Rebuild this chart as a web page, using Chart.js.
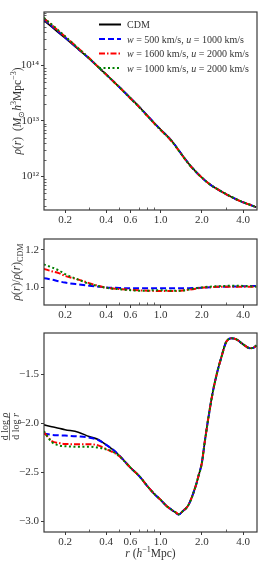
<!DOCTYPE html>
<html><head><meta charset="utf-8">
<script src="https://cdn.jsdelivr.net/npm/chart.js@4.4.0/dist/chart.umd.min.js"></script>
<style>
html,body{margin:0;padding:0;background:#fff;width:269px;height:571px;overflow:hidden}
canvas{position:absolute;left:0}
</style></head><body>
<canvas id="c1" width="269" height="228" style="top:0;width:269px;height:228px"></canvas>
<canvas id="c2" width="269" height="96" style="top:228px;width:269px;height:96px"></canvas>
<canvas id="c3" width="269" height="247" style="top:324px;width:269px;height:247px"></canvas>
<script>
// ---------------- data ----------------
const seriesNames = ['CDM', 'w = 500 km/s, u = 1000 km/s', 'w = 1600 km/s, u = 2000 km/s', 'w = 1000 km/s, u = 2000 km/s'];

const rGrid = [0.14,0.16,0.18,0.2,0.25,0.3,0.35,0.4,0.5,0.6,0.7,0.8,0.9,1.0,1.2,1.4,1.6,1.8,2.0,2.3,2.6,3.0,3.5,4.0,4.5,5.0];

const rhoCDM   = [6.47e14,4.94e14,3.88e14,3.13e14,1.96e14,1.33e14,9.35e13,6.89e13,4.08e13,2.61e13,1.79e13,1.26e13,9.16e12,7.03e12,4.46e12,2.67e12,1.72e12,1.24e12,9.59e11,7.14e11,5.90e11,4.82e11,3.96e11,3.43e11,3.08e11,2.79e11];
const rhoW500  = [6.78e14,5.14e14,4.00e14,3.21e14,1.99e14,1.34e14,9.37e13,6.88e13,4.06e13,2.59e13,1.78e13,1.25e13,9.10e12,6.98e12,4.43e12,2.65e12,1.71e12,1.23e12,9.55e11,7.13e11,5.91e11,4.83e11,3.97e11,3.44e11,3.10e11,2.80e11];
const rhoW1600 = [7.10e14,5.36e14,4.17e14,3.32e14,2.04e14,1.36e14,9.41e13,6.86e13,4.04e13,2.57e13,1.76e13,1.23e13,8.97e12,6.88e12,4.36e12,2.62e12,1.69e12,1.23e12,9.55e11,7.13e11,5.91e11,4.83e11,3.97e11,3.44e11,3.09e11,2.80e11];
const rhoW1000 = [7.26e14,5.46e14,4.23e14,3.35e14,2.04e14,1.35e14,9.40e13,6.86e13,4.03e13,2.57e13,1.75e13,1.23e13,9.00e12,6.91e12,4.37e12,2.62e12,1.70e12,1.23e12,9.57e11,7.15e11,5.92e11,4.85e11,3.99e11,3.45e11,3.09e11,2.80e11];

const ratioW500  = [1.048,1.040,1.031,1.024,1.014,1.007,1.002,0.998,0.995,0.993,0.993,0.993,0.993,0.993,0.993,0.993,0.994,0.995,0.996,0.999,1.001,1.002,1.003,1.004,1.005,1.005];
const ratioW1600 = [1.098,1.085,1.075,1.060,1.040,1.021,1.006,0.996,0.989,0.985,0.982,0.980,0.979,0.978,0.978,0.980,0.985,0.991,0.996,0.999,1.001,1.002,1.002,1.002,1.002,1.002];
const ratioW1000 = [1.122,1.106,1.090,1.070,1.040,1.017,1.005,0.996,0.988,0.983,0.980,0.980,0.983,0.983,0.980,0.980,0.986,0.993,0.998,1.002,1.004,1.006,1.007,1.006,1.004,1.002];

const rSlope = [0.14,0.16,0.18,0.2,0.25,0.3,0.35,0.4,0.45,0.5,0.6,0.7,0.8,0.9,1.0,1.1,1.2,1.3,1.35,1.45,1.6,1.8,1.9,2.0,2.1,2.2,2.4,2.6,2.8,3.0,3.3,3.6,4.0,4.5,4.8,5.0];
const slopeCDM   = [-2.015,-2.035,-2.05,-2.065,-2.09,-2.135,-2.165,-2.22,-2.27,-2.33,-2.45,-2.54,-2.64,-2.72,-2.78,-2.84,-2.88,-2.915,-2.93,-2.895,-2.83,-2.642,-2.525,-2.404,-2.19,-2.0,-1.688,-1.47,-1.31,-1.176,-1.134,-1.147,-1.195,-1.235,-1.228,-1.207];
const slopeW500  = [-2.105,-2.117,-2.122,-2.125,-2.133,-2.145,-2.17,-2.22,-2.27,-2.33,-2.45,-2.54,-2.64,-2.72,-2.78,-2.84,-2.88,-2.915,-2.93,-2.895,-2.83,-2.642,-2.525,-2.404,-2.19,-2.0,-1.688,-1.47,-1.31,-1.176,-1.134,-1.147,-1.195,-1.235,-1.228,-1.207];
const slopeW1600 = [-2.09,-2.18,-2.20,-2.21,-2.213,-2.212,-2.225,-2.262,-2.295,-2.335,-2.45,-2.54,-2.64,-2.72,-2.78,-2.84,-2.88,-2.91,-2.925,-2.895,-2.83,-2.642,-2.525,-2.404,-2.19,-2.0,-1.688,-1.47,-1.31,-1.176,-1.134,-1.147,-1.195,-1.235,-1.228,-1.207];
const slopeW1000 = [-2.08,-2.19,-2.225,-2.233,-2.238,-2.238,-2.247,-2.265,-2.29,-2.335,-2.45,-2.54,-2.64,-2.72,-2.78,-2.84,-2.88,-2.91,-2.925,-2.895,-2.83,-2.642,-2.525,-2.404,-2.19,-2.0,-1.688,-1.47,-1.31,-1.176,-1.134,-1.147,-1.195,-1.235,-1.228,-1.207];

const xTickValues = [0.2,0.4,0.6,1.0,2.0,4.0];
const xTickLabels = ['0.2','0.4','0.6','1.0','2.0','4.0'];
const xMinorTicks = [0.3,0.5,0.7,0.8,0.9,3.0];
const densityTickValues = [1e12,1e13,1e14];
const densityTickLabels = ['10\u00b9\u00b2','10\u00b9\u00b3','10\u00b9\u2074'];
const ratioTickValues = [1.0,1.2];
const ratioTickLabels = ['1.0','1.2'];
const slopeTickValues = [-3.0,-2.5,-2.0,-1.5];
const slopeTickLabels = ['\u22123.0','\u22122.5','\u22122.0','\u22121.5'];

// ---------------- styling ----------------
const FONT = '"Liberation Serif", "Times New Roman", serif';
const TXT = '#333333';
const FRAME = '#3a3a3a';
const lineStyles = [
  {color:'#000000', dash:[], width:1.6, order:3},
  {color:'#0000ff', dash:[6,3], width:2, order:2},
  {color:'#ff0000', dash:[6,2,1.5,2], width:2, order:1},
  {color:'#008000', dash:[2,2.5], width:2, order:0}
];
const X_MIN = 0.1404, X_MAX = 5.06;

function fontFor(s,size){
  const sz = (s.sup||s.sub) ? size*0.7 : size;
  return (s.i?'italic ':'') + sz + 'px ' + FONT;
}
function richWidth(ctx,segs,size){
  let w=0; for(const s of segs){ctx.font=fontFor(s,size); w+=ctx.measureText(s.t).width;} return w;
}
function drawRich(ctx,segs,cx,cy,size,rot,align){
  ctx.save(); ctx.translate(cx,cy); if(rot) ctx.rotate(-Math.PI/2);
  const w = richWidth(ctx,segs,size);
  let x = align==='left' ? 0 : -w/2;
  ctx.textBaseline='alphabetic'; ctx.textAlign='left'; ctx.fillStyle=TXT;
  for(const s of segs){
    ctx.font=fontFor(s,size);
    let dy = size*0.35;
    if(s.sup) dy -= size*0.42;
    if(s.sub) dy += size*0.22;
    ctx.fillText(s.t,x,dy);
    x += ctx.measureText(s.t).width;
  }
  ctx.restore();
  return w;
}
function labelSegs(str){
  const out=[]; const parts = str.split(/\b([wu])\b/);
  parts.forEach((p,i)=>{ if(!p) return; out.push(i%2===1?{t:p,i:true}:{t:p}); });
  return out;
}

function xScale(){
  return {
    type:'logarithmic', min:X_MIN, max:X_MAX,
    afterBuildTicks:s=>{ s.ticks = xTickValues.map(v=>({value:v})); },
    afterFit:s=>{ s.height = s.chart.options.xAxisHeight; },
    ticks:{callback:(v,i)=>xTickLabels[i], font:{family:FONT,size:11}, color:TXT, padding:1, maxRotation:0, minRotation:0, autoSkip:false},
    grid:{display:true, drawOnChartArea:false, drawTicks:true, tickLength:3, color:FRAME, lineWidth:1},
    border:{display:false}
  };
}
function yScale(type,min,max,vals,labels){
  return {
    type:type, min:min, max:max,
    afterBuildTicks:s=>{ s.ticks = vals.map(v=>({value:v})); },
    afterFit:s=>{ s.width = 44; },
    ticks:{callback:(v,i)=>labels[i], font:{family:FONT,size:11}, color:TXT, padding:2, autoSkip:false},
    grid:{display:true, drawOnChartArea:false, drawTicks:true, tickLength:3, color:FRAME, lineWidth:1},
    border:{display:false}
  };
}

function framePlugin(extra){
  return {
    id:'frame',
    afterDraw(chart){
      const ctx=chart.ctx, a=chart.chartArea;
      ctx.save();
      ctx.strokeStyle=FRAME; ctx.lineWidth=1.2;
      ctx.strokeRect(a.left,a.top,a.right-a.left,a.bottom-a.top);
      ctx.lineWidth=0.8;
      const xs=chart.scales.x;
      ctx.beginPath();
      for(const v of xMinorTicks){ const px=Math.round(xs.getPixelForValue(v))+0.5; ctx.moveTo(px,a.bottom); ctx.lineTo(px,a.bottom-2.5); }
      ctx.stroke();
      ctx.restore();
      if(extra) extra(chart);
    }
  };
}

function ds(values,xs,idx,label){
  const st=lineStyles[idx];
  return {label:label, data:values.map((v,i)=>({x:xs[i],y:v})), borderColor:st.color, borderDash:st.dash, order:st.order,
    borderWidth:st.width, pointRadius:0, fill:false, cubicInterpolationMode:'monotone', borderCapStyle:'butt'};
}

const common = {responsive:false, animation:false, events:[], plugins:{legend:{display:false}, tooltip:{enabled:false}}};

// ---------------- panel 1 ----------------
new Chart(document.getElementById('c1'), {
  type:'line',
  data:{datasets:[ds(rhoCDM,rGrid,0,seriesNames[0]),ds(rhoW500,rGrid,1,seriesNames[1]),ds(rhoW1600,rGrid,2,seriesNames[2]),ds(rhoW1000,rGrid,3,seriesNames[3])]},
  options:Object.assign({}, common, {
    xAxisHeight:18,
    layout:{padding:{top:12,right:12,left:0,bottom:0}},
    scales:{x:xScale(), y:yScale('logarithmic',2.49e11,9.2e14,densityTickValues,densityTickLabels)}
  }),
  plugins:[framePlugin(chart=>{
    const ctx=chart.ctx, a=chart.chartArea, ys=chart.scales.y;
    ctx.save(); ctx.strokeStyle=FRAME; ctx.lineWidth=0.8; ctx.beginPath();
    for(let n=11;n<=14;n++) for(let k=2;k<=9;k++){ const v=k*Math.pow(10,n); if(v<ys.min||v>ys.max) continue;
      const py=Math.round(ys.getPixelForValue(v))+0.5; ctx.moveTo(a.left,py); ctx.lineTo(a.left+2.5,py); }
    ctx.stroke(); ctx.restore();
    const rowY=[24.5,39,53.5,68];
    chart.data.datasets.forEach((d,i)=>{
      ctx.save(); ctx.strokeStyle=d.borderColor; ctx.lineWidth=2; ctx.setLineDash(d.borderDash);
      ctx.beginPath(); ctx.moveTo(99,rowY[i]); ctx.lineTo(121,rowY[i]); ctx.stroke(); ctx.restore();
      drawRich(ctx,labelSegs(d.label),127,rowY[i],10,false,'left');
    });
    drawRich(ctx,[{t:'\u03c1',i:true},{t:'('},{t:'r',i:true},{t:')  ('},{t:'M',i:true},{t:'\u2299',sub:true},{t:'h',i:true},{t:'3',sup:true},{t:'Mpc'},{t:'\u22123',sup:true},{t:')'}],
      17,(a.top+a.bottom)/2,11.5,true);
  })]
});

// ---------------- panel 2 ----------------
new Chart(document.getElementById('c2'), {
  type:'line',
  data:{datasets:[ds(ratioW500,rGrid,1,seriesNames[1]),ds(ratioW1600,rGrid,2,seriesNames[2]),ds(ratioW1000,rGrid,3,seriesNames[3])]},
  options:Object.assign({}, common, {
    xAxisHeight:19,
    layout:{padding:{top:11,right:12,left:0,bottom:0}},
    scales:{x:xScale(), y:yScale('linear',0.903,1.259,ratioTickValues,ratioTickLabels)}
  }),
  plugins:[framePlugin(chart=>{
    const a=chart.chartArea;
    drawRich(chart.ctx,[{t:'\u03c1',i:true},{t:'('},{t:'r',i:true},{t:')/'},{t:'\u03c1',i:true},{t:'('},{t:'r',i:true},{t:')'},{t:'CDM',sub:true}],
      16,(a.top+a.bottom)/2,11.5,true);
  })]
});

// ---------------- panel 3 ----------------
new Chart(document.getElementById('c3'), {
  type:'line',
  data:{datasets:[ds(slopeCDM,rSlope,0,seriesNames[0]),ds(slopeW500,rSlope,1,seriesNames[1]),ds(slopeW1600,rSlope,2,seriesNames[2]),ds(slopeW1000,rSlope,3,seriesNames[3])]},
  options:Object.assign({}, common, {
    xAxisHeight:39,
    layout:{padding:{top:9,right:12,left:0,bottom:0}},
    scales:{x:xScale(), y:yScale('linear',-3.107,-1.080,slopeTickValues,slopeTickLabels)}
  }),
  plugins:[framePlugin(chart=>{
    const ctx=chart.ctx, a=chart.chartArea;
    const cy=(a.top+a.bottom)/2 - 6, cx=9.5, size=10;
    const num=[{t:'d log '},{t:'\u03c1',i:true}], den=[{t:'d log '},{t:'r',i:true}];
    ctx.save(); ctx.translate(cx,cy); ctx.rotate(-Math.PI/2);
    const w=Math.max(richWidth(ctx,num,size),richWidth(ctx,den,size));
    ctx.strokeStyle=TXT; ctx.lineWidth=0.7; ctx.beginPath(); ctx.moveTo(-w/2,0); ctx.lineTo(w/2,0); ctx.stroke();
    drawRich(ctx,num,0,-5,size,false);
    drawRich(ctx,den,0,5.5,size,false);
    ctx.restore();
    drawRich(ctx,[{t:'r',i:true},{t:' ('},{t:'h',i:true},{t:'\u22121',sup:true},{t:'Mpc)'}],(a.left+a.right)/2,229,11.5,false);
  })]
});
</script>
</body></html>
